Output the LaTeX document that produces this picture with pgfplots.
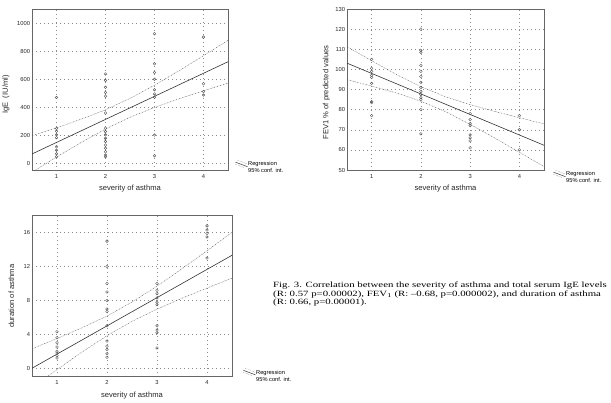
\documentclass[border=0pt]{standalone}
\usepackage{pgfplots}
\pgfplotsset{compat=1.18}
\usepackage{fontspec}
\setmainfont{Liberation Serif}
\setsansfont{Liberation Sans}
\newfontfamily\capfont[FakeStretch=1.35]{Liberation Serif}
\newcommand{\labfont}{\sffamily\fontsize{7.6}{8}\selectfont}
\pgfplotsset{
  myax/.style={
    scale only axis, anchor=south west,
    xmin=0.5, xmax=4.5, xtick={1,2,3,4},
    grid=major,
    grid style={black!45, line width=0.4pt, dash pattern=on 0.5pt off 3.5pt},
    axis line style={black!60, line width=0.5pt},
    tick style={draw=none},
    tick label style={font=\sffamily\fontsize{5.8}{6}\selectfont, black!85},
    /pgf/number format/assume math mode=true,
    /pgf/number format/1000 sep={},
    yticklabel style={inner sep=0pt, xshift=-1.8pt},
    xticklabel style={inner sep=0pt, yshift=-4pt},
    xlabel={severity of asthma},
    every axis x label/.style={at={([yshift=-18.5pt]rel axis cs:0.5,0)}, anchor=center, font=\labfont, black!85},
    legend style={draw=none, fill=none, inner sep=0pt, font=\sffamily\fontsize{5.7}{5.5}\selectfont, anchor=south west, row sep=0.2pt, nodes={inner sep=0.5pt}},
    legend cell align=left,
  },
  pts/.style={only marks, mark=o, mark size=1.35pt, black!65, mark options={line width=0.4pt}, forget plot},
  reg/.style={black!80, line width=0.6pt, forget plot, no marks},
  band/.style={black!65, line width=0.4pt, dash pattern=on 1.2pt off 0.9pt on 0.3pt off 0.9pt, forget plot, no marks},
}
\newcommand{\mylegend}{%
  \addlegendimage{no marks, legend image code/.code={
    \draw[black!80, line width=0.5pt] (0pt,2.5pt) -- (12pt,-2pt);
    \draw[black!65, line width=0.4pt, densely dotted] (2pt,4.5pt) -- (12pt,0.5pt);
    \draw[black!65, line width=0.4pt, densely dotted] (0pt,0.5pt) -- (9pt,-3pt);}}
  \addlegendentry{Regression}
  \addlegendimage{draw=none, no marks, legend image code/.code={\path[draw=none] (0pt,0pt) -- (12pt,0pt);}}
  \addlegendentry{95\% conf. int.}
}
\begin{document}
\begin{tikzpicture}
\path[use as bounding box] (0pt,0pt) rectangle (611pt,-402pt);

% ---- IgE ----
\begin{axis}[myax, at={(32pt,-170pt)}, width=196pt, height=161pt,
  ymin=-45, ymax=1100, ytick={0,200,400,600,800,1000},
  ylabel={IgE\ \ (IU/ml)},
  every axis y label/.style={at={([xshift=-26pt,yshift=-5pt]rel axis cs:0,0.5)}, rotate=90, anchor=center, font=\labfont, black!85},
  legend style={at={([xshift=7pt,yshift=-5pt]rel axis cs:1,0)}}]
\addplot[pts] coordinates {
 (1,470) (1,250) (1,230) (1,205) (1,185) (1,120) (1,95) (1,70) (1,50)
 (2,638) (2,591) (2,543) (2,506) (2,480) (2,360) (2,252) (2,228) (2,205) (2,180) (2,157) (2,133) (2,109) (2,85) (2,62) (2,50)
 (3,924) (3,710) (3,648) (3,601) (3,525) (3,496) (3,473) (3,204) (3,57)
 (4,900) (4,568) (4,513) (4,489)};
\addplot[reg] coordinates {(0.5,69) (4.5,725)};
\addplot[band] coordinates {(0.5,199) (1,255) (1.5,316) (2,383.5) (2.5,464) (3,558) (3.5,660.6) (4,767.7) (4.5,877)};
\addplot[band] coordinates {(0.5,-61) (1,47) (1.5,150) (2,246.5) (2.5,330) (3,400) (3.5,461.4) (4,518.3) (4.5,573)};
\mylegend
\end{axis}

% ---- FEV1 ----
\begin{axis}[myax, at={(347pt,-170pt)}, width=197pt, height=161pt,
  ymin=50, ymax=130, ytick={50,60,...,130},
  ylabel={FEV1 \% of predicted values},
  every axis y label/.style={at={([xshift=-20.5pt,yshift=-3pt]rel axis cs:0,0.5)}, rotate=90, anchor=center, font=\labfont, black!85},
  legend style={at={([xshift=9pt,yshift=-15pt]rel axis cs:1,0)}}]
\addplot[pts] coordinates {
 (1,105) (1,100.5) (1,99) (1,97) (1,96) (1,93) (1,84) (1,83.5) (1,77)
 (2,120) (2,109.5) (2,108.5) (2,102) (2,99) (2,96.5) (2,93.5) (2,91) (2,89) (2,87.5) (2,86) (2,85) (2,80) (2,68)
 (3,78) (3,75) (3,73) (3,72) (3,67.5) (3,66) (3,64.5) (3,61)
 (4,77) (4,70) (4,60)};
\addplot[reg] coordinates {(0.5,103.1) (4.5,62.3)};
\addplot[band] coordinates {(0.5,111.3) (1,104.3) (1.5,97.5) (2,91.4) (2.5,86.4) (3,82.5) (3.5,79.1) (4,76.0) (4.5,72.9)};
\addplot[band] coordinates {(0.5,94.9) (1,91.7) (1.5,88.3) (2,84.2) (2.5,79.0) (3,72.7) (3.5,65.9) (4,58.8) (4.5,51.7)};
\mylegend
\end{axis}

% ---- duration ----
\begin{axis}[myax, at={(32pt,-376.7pt)}, width=200pt, height=161pt,
  ymin=-1, ymax=18, ytick={0,4,8,12,16},
  ylabel={duration of asthma},
  every axis y label/.style={at={([xshift=-20.5pt]rel axis cs:0,0.5)}, rotate=90, anchor=center, font=\labfont, black!85},
  legend style={at={([xshift=11pt,yshift=-6.5pt]rel axis cs:1,0)}}]
\addplot[pts] coordinates {
 (1,4.3) (1,3.6) (1,3) (1,2.5) (1,2) (1,1.8) (1,1.5) (1,1.2)
 (2,15) (2,12) (2,10) (2,9) (2,8) (2,7) (2,6.7) (2,5) (2,3.2) (2,2.6) (2,2.2) (2,1.7) (2,1.3)
 (3,10) (3,9.2) (3,8.8) (3,8.3) (3,7.8) (3,7.5) (3,5) (3,4.5) (3,4.2) (3,2.4)
 (4,16.8) (4,16.3) (4,15.9) (4,15.5) (4,13)};
\addplot[reg] coordinates {(0.5,0.0) (4.5,13.33)};
\addplot[band] coordinates {(0.5,2.30) (1,3.50) (1.5,4.77) (2,6.16) (2.5,7.81) (3,9.69) (3.5,11.74) (4,13.86) (4.5,16.03)};
\addplot[band] coordinates {(0.5,-2.30) (1,-0.16) (1.5,1.91) (2,3.84) (2.5,5.53) (3,6.97) (3.5,8.26) (4,9.46) (4.5,10.63)};
\mylegend
\end{axis}

% ---- caption ----
\node[anchor=base west, inner sep=0pt, font=\capfont\fontsize{8}{8.7}\selectfont] at (273pt,-287.5pt) {Fig. 3. Correlation between the severity of asthma and total serum IgE levels};
\node[anchor=base west, inner sep=0pt, font=\capfont\fontsize{8}{8.7}\selectfont] at (273pt,-296.2pt) {(R: 0.57 p=0.00002), FEV\textsubscript{1} (R: –0.68, p=0.000002), and duration of asthma};
\node[anchor=base west, inner sep=0pt, font=\capfont\fontsize{8}{8.7}\selectfont] at (273pt,-304.9pt) {(R: 0.66, p=0.00001).};
\end{tikzpicture}
\end{document}
